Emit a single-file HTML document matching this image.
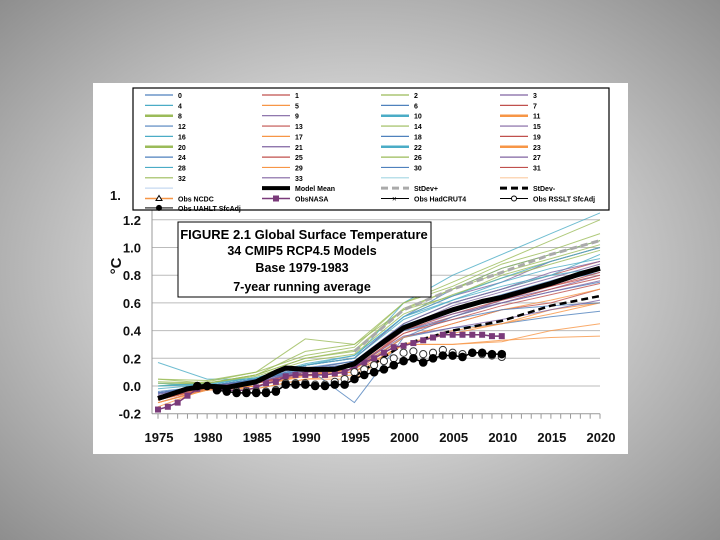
<!DOCTYPE html>
<html><head><meta charset="utf-8"><style>
html,body{margin:0;padding:0;}
body{width:720px;height:540px;background:radial-gradient(ellipse at 50% 50%,#e4e4e4 0%,#d0d0d0 45%,#8e8e8e 100%);position:relative;overflow:hidden;font-family:"Liberation Sans",sans-serif;}
svg{position:absolute;left:0;top:0;}
</style></head><body>
<svg id="c" width="720" height="540"></svg>
<script>
const years=[1975,1980,1985,1990,1995,2000,2005,2010,2015,2020];
const models=[
[-0.05,0.0,0.05,0.15,0.2,0.5,0.7,0.85,0.95,1.05],
[-0.1,-0.02,0.0,0.1,0.1,0.35,0.45,0.55,0.6,0.7],
[0.0,0.02,0.08,0.2,0.25,0.55,0.65,0.8,0.9,1.0],
[-0.08,-0.03,0.02,0.12,0.15,0.4,0.5,0.62,0.7,0.8],
[0.17,0.05,0.05,0.15,0.2,0.6,0.8,0.95,1.1,1.25],
[-0.1,0.0,-0.02,0.05,0.08,0.3,0.3,0.33,0.35,0.36],
[-0.05,0.0,0.05,0.1,0.12,0.35,0.42,0.45,0.5,0.54],
[-0.12,-0.02,0.02,0.1,0.15,0.45,0.6,0.7,0.8,0.9],
[0.0,0.03,0.1,0.34,0.3,0.6,0.75,0.9,1.05,1.2],
[-0.1,0.0,0.05,0.15,0.2,0.5,0.65,0.75,0.9,1.0],
[0.02,0.0,0.05,0.12,0.18,0.45,0.6,0.7,0.8,0.95],
[-0.15,-0.02,-0.02,0.05,0.05,0.3,0.3,0.32,0.4,0.45],
[-0.05,0.0,0.03,0.1,0.15,0.4,0.55,0.65,0.75,0.82],
[-0.08,0.0,0.02,0.08,0.12,0.38,0.5,0.6,0.7,0.78],
[0.05,0.02,0.08,0.25,0.3,0.55,0.7,0.85,0.95,1.05],
[-0.05,0.0,0.04,0.12,0.15,0.42,0.58,0.68,0.78,0.88],
[-0.02,0.01,0.06,0.15,0.22,0.5,0.62,0.75,0.85,0.92],
[-0.12,-0.03,0.0,0.08,0.1,0.3,0.4,0.45,0.55,0.6],
[-0.06,0.0,0.04,0.14,-0.12,0.35,0.5,0.6,0.68,0.75],
[-0.1,-0.02,0.02,0.1,0.12,0.4,0.52,0.62,0.72,0.82],
[0.05,0.04,0.1,0.22,0.28,0.6,0.72,0.88,0.98,1.1],
[-0.05,0.0,0.04,0.12,0.18,0.45,0.6,0.7,0.82,0.9],
[0.0,0.02,0.06,0.15,0.2,0.48,0.62,0.72,0.8,0.85],
[-0.1,-0.02,0.0,0.08,0.12,0.35,0.45,0.55,0.62,0.7],
[-0.05,0.0,0.05,0.13,0.18,0.44,0.56,0.66,0.76,0.86],
[-0.1,-0.01,0.02,0.1,0.15,0.4,0.55,0.65,0.72,0.8],
[0.02,0.02,0.07,0.18,0.23,0.52,0.66,0.78,0.88,0.98],
[-0.07,0.0,0.03,0.11,0.16,0.42,0.52,0.6,0.68,0.76],
[0.0,0.01,0.06,0.16,0.22,0.5,0.65,0.78,0.9,1.0],
[-0.12,-0.03,0.0,0.07,0.1,0.3,0.38,0.45,0.52,0.6],
[-0.04,0.0,0.04,0.12,0.16,0.4,0.48,0.55,0.58,0.6],
[-0.08,-0.01,0.02,0.1,0.14,0.38,0.48,0.58,0.66,0.74],
[0.03,0.02,0.08,0.2,0.26,0.56,0.7,0.82,0.92,1.02],
[-0.06,0.0,0.03,0.1,0.14,0.36,0.42,0.48,0.55,0.62]];
const palette=['#4f81bd','#c0504d','#9bbb59','#8064a2','#4bacc6','#f79646'];
const meanYears=[1975,1978,1980,1982,1985,1987,1988,1990,1993,1995,1998,2000,2003,2005,2008,2010,2013,2015,2018,2020];
const meanVals=[-0.09,-0.02,0.0,-0.01,0.03,0.1,0.13,0.12,0.12,0.16,0.32,0.42,0.5,0.55,0.61,0.64,0.7,0.74,0.81,0.85];
const sdYears=[1995,2000,2005,2010,2015,2020];
const sdPlus=[0.25,0.55,0.7,0.82,0.95,1.05];
const sdMinus=[0.07,0.3,0.4,0.47,0.58,0.65];
const obsYears=[1975,1976,1977,1978,1979,1980,1981,1982,1983,1984,1985,1986,1987,1988,1989,1990,1991,1992,1993,1994,1995,1996,1997,1998,1999,2000,2001,2002,2003,2004,2005,2006,2007,2008,2009,2010];
const nasa=[-0.17,-0.15,-0.12,-0.07,-0.02,0.0,-0.02,-0.03,-0.03,-0.03,-0.01,0.02,0.03,0.07,0.08,0.08,0.08,0.08,0.09,0.1,0.14,0.17,0.2,0.24,0.28,0.29,0.31,0.33,0.35,0.37,0.37,0.37,0.37,0.37,0.36,0.36];
const satYears=[1979,1980,1981,1982,1983,1984,1985,1986,1987,1988,1989,1990,1991,1992,1993,1994,1995,1996,1997,1998,1999,2000,2001,2002,2003,2004,2005,2006,2007,2008,2009,2010];
const uah=[0.0,0.0,-0.03,-0.04,-0.05,-0.05,-0.05,-0.05,-0.04,0.01,0.01,0.01,0.0,0.0,0.01,0.01,0.05,0.08,0.1,0.12,0.15,0.18,0.2,0.17,0.2,0.22,0.22,0.21,0.24,0.24,0.23,0.23];
const rss=[0.0,0.0,-0.02,-0.03,-0.04,-0.04,-0.04,-0.04,-0.03,0.02,0.02,0.02,0.01,0.01,0.03,0.05,0.1,0.12,0.15,0.18,0.2,0.24,0.25,0.23,0.24,0.26,0.24,0.23,0.24,0.23,0.22,0.21];
const yTicks=[-0.2,0.0,0.2,0.4,0.6,0.8,1.0,1.2];
const xTicks=[1975,1980,1985,1990,1995,2000,2005,2010,2015,2020];

const NS='http://www.w3.org/2000/svg';
const svg=document.getElementById('c');
const X=y=>158+(y-1975)*(600-158)/45;
const Y=v=>386-v*138.5;
function el(t,a,p){const e=document.createElementNS(NS,t);for(const k in a)e.setAttribute(k,a[k]);(p||svg).appendChild(e);return e;}
function pts(xs,vs){return xs.map((x,i)=>X(x).toFixed(1)+','+Y(vs[i]).toFixed(1)).join(' ');}

let r=el('rect',{x:93,y:83,width:535,height:371,fill:'#fff'});



yTicks.forEach(v=>{
 const g=el('line',{x1:152,x2:600,y1:Y(v),y2:Y(v),stroke:v===-0.2?'#999':'#bbb','stroke-width':1});
 
 
 const t=el('text',{x:141,y:Y(v)+5,'text-anchor':'end','font-size':13,'font-weight':'bold',fill:'#111'});
 t.textContent=v.toFixed(1);
 
 
});
el('line',{x1:152,x2:152,y1:210,y2:Y(-0.2),stroke:'#999'});
for(let yr=1975;yr<=2020;yr++){el('line',{x1:X(yr),x2:X(yr),y1:Y(-0.2),y2:Y(-0.2)+5,stroke:'#999'});}
xTicks.forEach(v=>{
 const t=el('text',{x:X(v)+1,y:442,'text-anchor':'middle','font-size':13,'font-weight':'bold',fill:'#111'});
 t.textContent=v;
 
 
});
let yt=el('text',{x:0,y:0,'font-size':15,'font-weight':'bold',fill:'#111',transform:'translate(121,266) rotate(-90)','text-anchor':'middle'});
yt.textContent='°C';


let hid=el('text',{x:110,y:200,'font-size':13,'font-weight':'bold',fill:'#111'});hid.textContent='1.';

models.forEach((m,i)=>{
 const p=el('polyline',{points:pts(years,m),fill:'none',stroke:palette[i%6],'stroke-width':1,opacity:0.8});
 
 
});
let sp=el('polyline',{points:pts(sdYears,sdPlus),fill:'none',stroke:'#aaa','stroke-width':3,'stroke-dasharray':'7,4'});


let sm=el('polyline',{points:pts(sdYears,sdMinus),fill:'none',stroke:'#000','stroke-width':2.5,'stroke-dasharray':'7,4'});


let nl=el('polyline',{points:pts(obsYears,nasa),fill:'none',stroke:'#7a3a7a','stroke-width':1.5});


obsYears.forEach((y,i)=>{
 const s=el('rect',{x:X(y)-3,y:Y(nasa[i])-3,width:6,height:6,fill:'#7a3a7a'});
 
 
});
satYears.forEach((y,i)=>{
 const c=el('circle',{cx:X(y),cy:Y(rss[i]),r:3.6,fill:'#fff',stroke:'#333','stroke-width':1});
 
 
});
let ul=el('polyline',{points:pts(satYears,uah),fill:'none',stroke:'#000','stroke-width':1.5});


satYears.forEach((y,i)=>{
 const c=el('circle',{cx:X(y),cy:Y(uah[i]),r:4.3,fill:'#000'});
 
 
});
let ml=el('polyline',{points:pts(meanYears,meanVals),fill:'none',stroke:'#000','stroke-width':5,'stroke-linejoin':'round'});



let tb=el('rect',{x:178,y:222,width:253,height:75,fill:'#fff',stroke:'#000','stroke-width':1});


[['FIGURE 2.1  Global Surface Temperature',239],['34 CMIP5 RCP4.5 Models',255],['Base 1979-1983',272],['7-year running average',291]].forEach((s,i)=>{
 const t=el('text',{x:i===0?304:302,y:s[1],'text-anchor':'middle','font-size':i===0?13:12.5,'font-weight':'bold',fill:'#000'});
 t.textContent=s[0];
 
 
});

let lb=el('rect',{x:133,y:88,width:476,height:122,fill:'#fff',stroke:'#000','stroke-width':1.2});


const colX=[145,262,381,500];
const rowY=y=>95+y*10.35;
for(let i=0;i<36;i++){
 const c=i%4,rw=Math.floor(i/4);
 const thick=(i===8||i===10||i===11||i===20||i===22||i===23);
 const ln=el('line',{x1:colX[c],x2:colX[c]+28,y1:rowY(rw),y2:rowY(rw),stroke:palette[i%6],'stroke-width':thick?2.5:1.2,opacity:i>=34?0.5:1});
 
 
 if(i<34){const t=el('text',{x:colX[c]+33,y:rowY(rw)+3,'font-size':7,'font-weight':'bold',fill:'#000'});t.textContent=String(i);}
}
function legText(c,rw,s){const t=el('text',{x:colX[c]+33,y:rowY(rw)+3,'font-size':7,'font-weight':'bold',fill:'#000'});t.textContent=s;}
el('line',{x1:colX[0],x2:colX[0]+28,y1:rowY(9),y2:rowY(9),stroke:'#c6d9f0','stroke-width':1.2});
el('line',{x1:colX[1],x2:colX[1]+28,y1:rowY(9),y2:rowY(9),stroke:'#000','stroke-width':4});legText(1,9,'Model Mean');
el('line',{x1:colX[2],x2:colX[2]+28,y1:rowY(9),y2:rowY(9),stroke:'#aaa','stroke-width':3,'stroke-dasharray':'7,4'});legText(2,9,'StDev+');
el('line',{x1:colX[3],x2:colX[3]+28,y1:rowY(9),y2:rowY(9),stroke:'#000','stroke-width':3,'stroke-dasharray':'7,4'});legText(3,9,'StDev-');
el('line',{x1:colX[0],x2:colX[0]+28,y1:rowY(10),y2:rowY(10),stroke:'#f79646','stroke-width':1.5});
el('polygon',{points:`${colX[0]+14},${rowY(10)-3} ${colX[0]+11},${rowY(10)+2} ${colX[0]+17},${rowY(10)+2}`,fill:'#fff',stroke:'#000'});legText(0,10,'Obs NCDC');
el('line',{x1:colX[1],x2:colX[1]+28,y1:rowY(10),y2:rowY(10),stroke:'#7a3a7a','stroke-width':1.5});
el('rect',{x:colX[1]+11,y:rowY(10)-3,width:6,height:6,fill:'#7a3a7a'});legText(1,10,'ObsNASA');
el('line',{x1:colX[2],x2:colX[2]+28,y1:rowY(10),y2:rowY(10),stroke:'#000'});
el('text',{x:colX[2]+11,y:rowY(10)+3,'font-size':8,fill:'#000'}).textContent='×';legText(2,10,'Obs HadCRUT4');
el('line',{x1:colX[3],x2:colX[3]+28,y1:rowY(10),y2:rowY(10),stroke:'#000'});
el('circle',{cx:colX[3]+14,cy:rowY(10),r:2.5,fill:'#fff',stroke:'#000'});legText(3,10,'Obs RSSLT SfcAdj');
el('line',{x1:colX[0],x2:colX[0]+28,y1:rowY(11)-1,y2:rowY(11)-1,stroke:'#555','stroke-width':1.5});
el('circle',{cx:colX[0]+14,cy:rowY(11)-1,r:3,fill:'#000'});legText(0,10.9,'Obs UAHLT SfcAdj');
</script>
</body></html>
